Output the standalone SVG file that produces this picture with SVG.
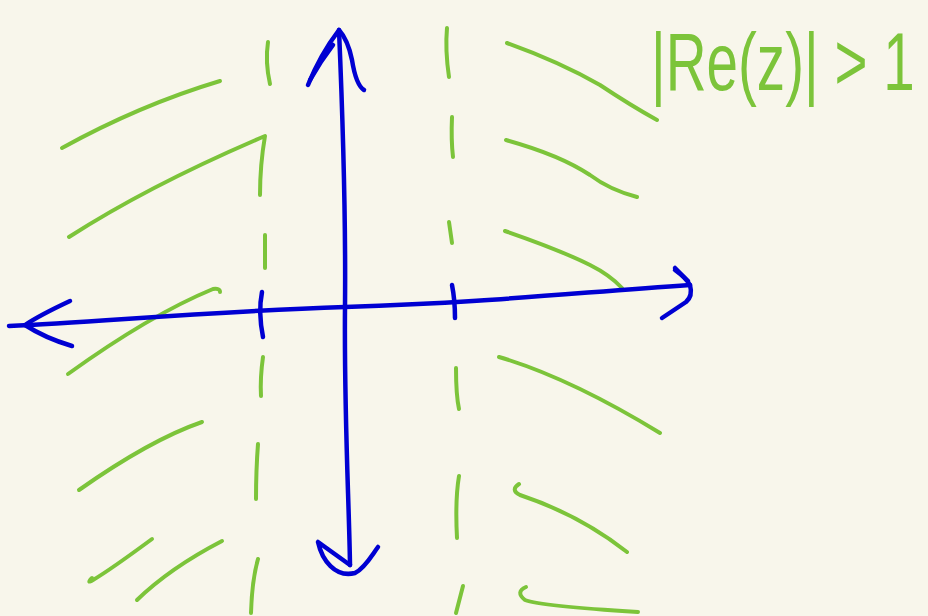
<svg xmlns="http://www.w3.org/2000/svg" width="928" height="616" viewBox="0 0 928 616">
<style>
.g{fill:none;stroke:#7cc43a;stroke-width:4;stroke-linecap:round;stroke-linejoin:round}
.b{fill:none;stroke:#0000d2;stroke-width:4.5;stroke-linecap:round;stroke-linejoin:round}
.lbl{font-family:"Liberation Sans",Arial,sans-serif;font-size:82px;fill:#7cc43a}
</style>
<rect width="928" height="616" fill="#f8f6eb"/>
<g id="field-left">
<path class="g" d="M62,148 Q140,105 220,81"/>
<path class="g" d="M69,237 Q150,185 265,136 Q260,165 260,195"/>
<path class="g" d="M68,374 Q150,315 213,289 Q220,288 220,292"/>
<path class="g" d="M79,490 Q150,440 202,422"/>
<path class="g" d="M152,539 Q110,570 93,580 Q86,584 92,578"/>
<path class="g" d="M222,541 Q170,568 137,600"/>
</g>
<g id="field-right">
<path class="g" d="M507,43 Q560,62 600,85 Q630,105 657,120"/>
<path class="g" d="M506,140 Q560,155 590,175 Q610,190 637,197"/>
<path class="g" d="M505,231 Q560,250 590,265 Q610,275 622,288"/>
<path class="g" d="M499,357 Q570,378 660,433"/>
<path class="g" d="M519,484 Q510,490 520,495 Q580,515 627,552"/>
<path class="g" d="M526,587 Q515,592 525,600 Q540,606 638,612"/>
</g>
<g id="line-re-minus1">
<path class="g" d="M268,42 Q265,62 270,84"/>
<path class="g" d="M265,235 L265,268"/>
<path class="g" d="M263,357 Q260,378 261,396"/>
<path class="g" d="M258,444 Q256,470 256,499"/>
<path class="g" d="M258,559 Q252,580 251,613"/>
</g>
<g id="line-re-plus1">
<path class="g" d="M447,28 Q445,50 449,77"/>
<path class="g" d="M452,117 Q451,140 453,157"/>
<path class="g" d="M449,222 L452,243"/>
<path class="g" d="M456,368 Q456,395 459,409"/>
<path class="g" d="M459,476 Q455,500 457,538"/>
<path class="g" d="M463,586 L456,613"/>
</g>
<g id="axes">
<path class="b" d="M9,326 C100,322 200,312 345,307 S560,294 690,285"/>
<path class="b" d="M70,301 Q40,315 25,325 Q45,338 72,346"/>
<path class="b" d="M675,270 Q686,278 690,285 Q693,296 686,302 L662,318"/>
<path class="b" d="M675,268 L688,281" stroke-width="7"/>
<path class="b" d="M262,292 Q258,312 263,337"/>
<path class="b" d="M452,285 Q455,300 455,318"/>
<path class="b" d="M339,30 C342,100 346,200 345,307 S349,500 350,565"/>
<path class="b" d="M308,85 Q320,55 339,30 Q348,40 352,60 Q356,85 364,90"/>
<path class="b" d="M310,80 Q320,62 333,45" stroke-width="6"/>
<path class="b" d="M350,565 L318,542 C322,560 335,578 355,573 C365,568 372,555 378,547"/>
</g>
<g id="label" transform="translate(651,90) scale(0.69,1)">
<text class="lbl" x="0" y="0">|Re(z)| &gt; 1</text>
</g>
</svg>
